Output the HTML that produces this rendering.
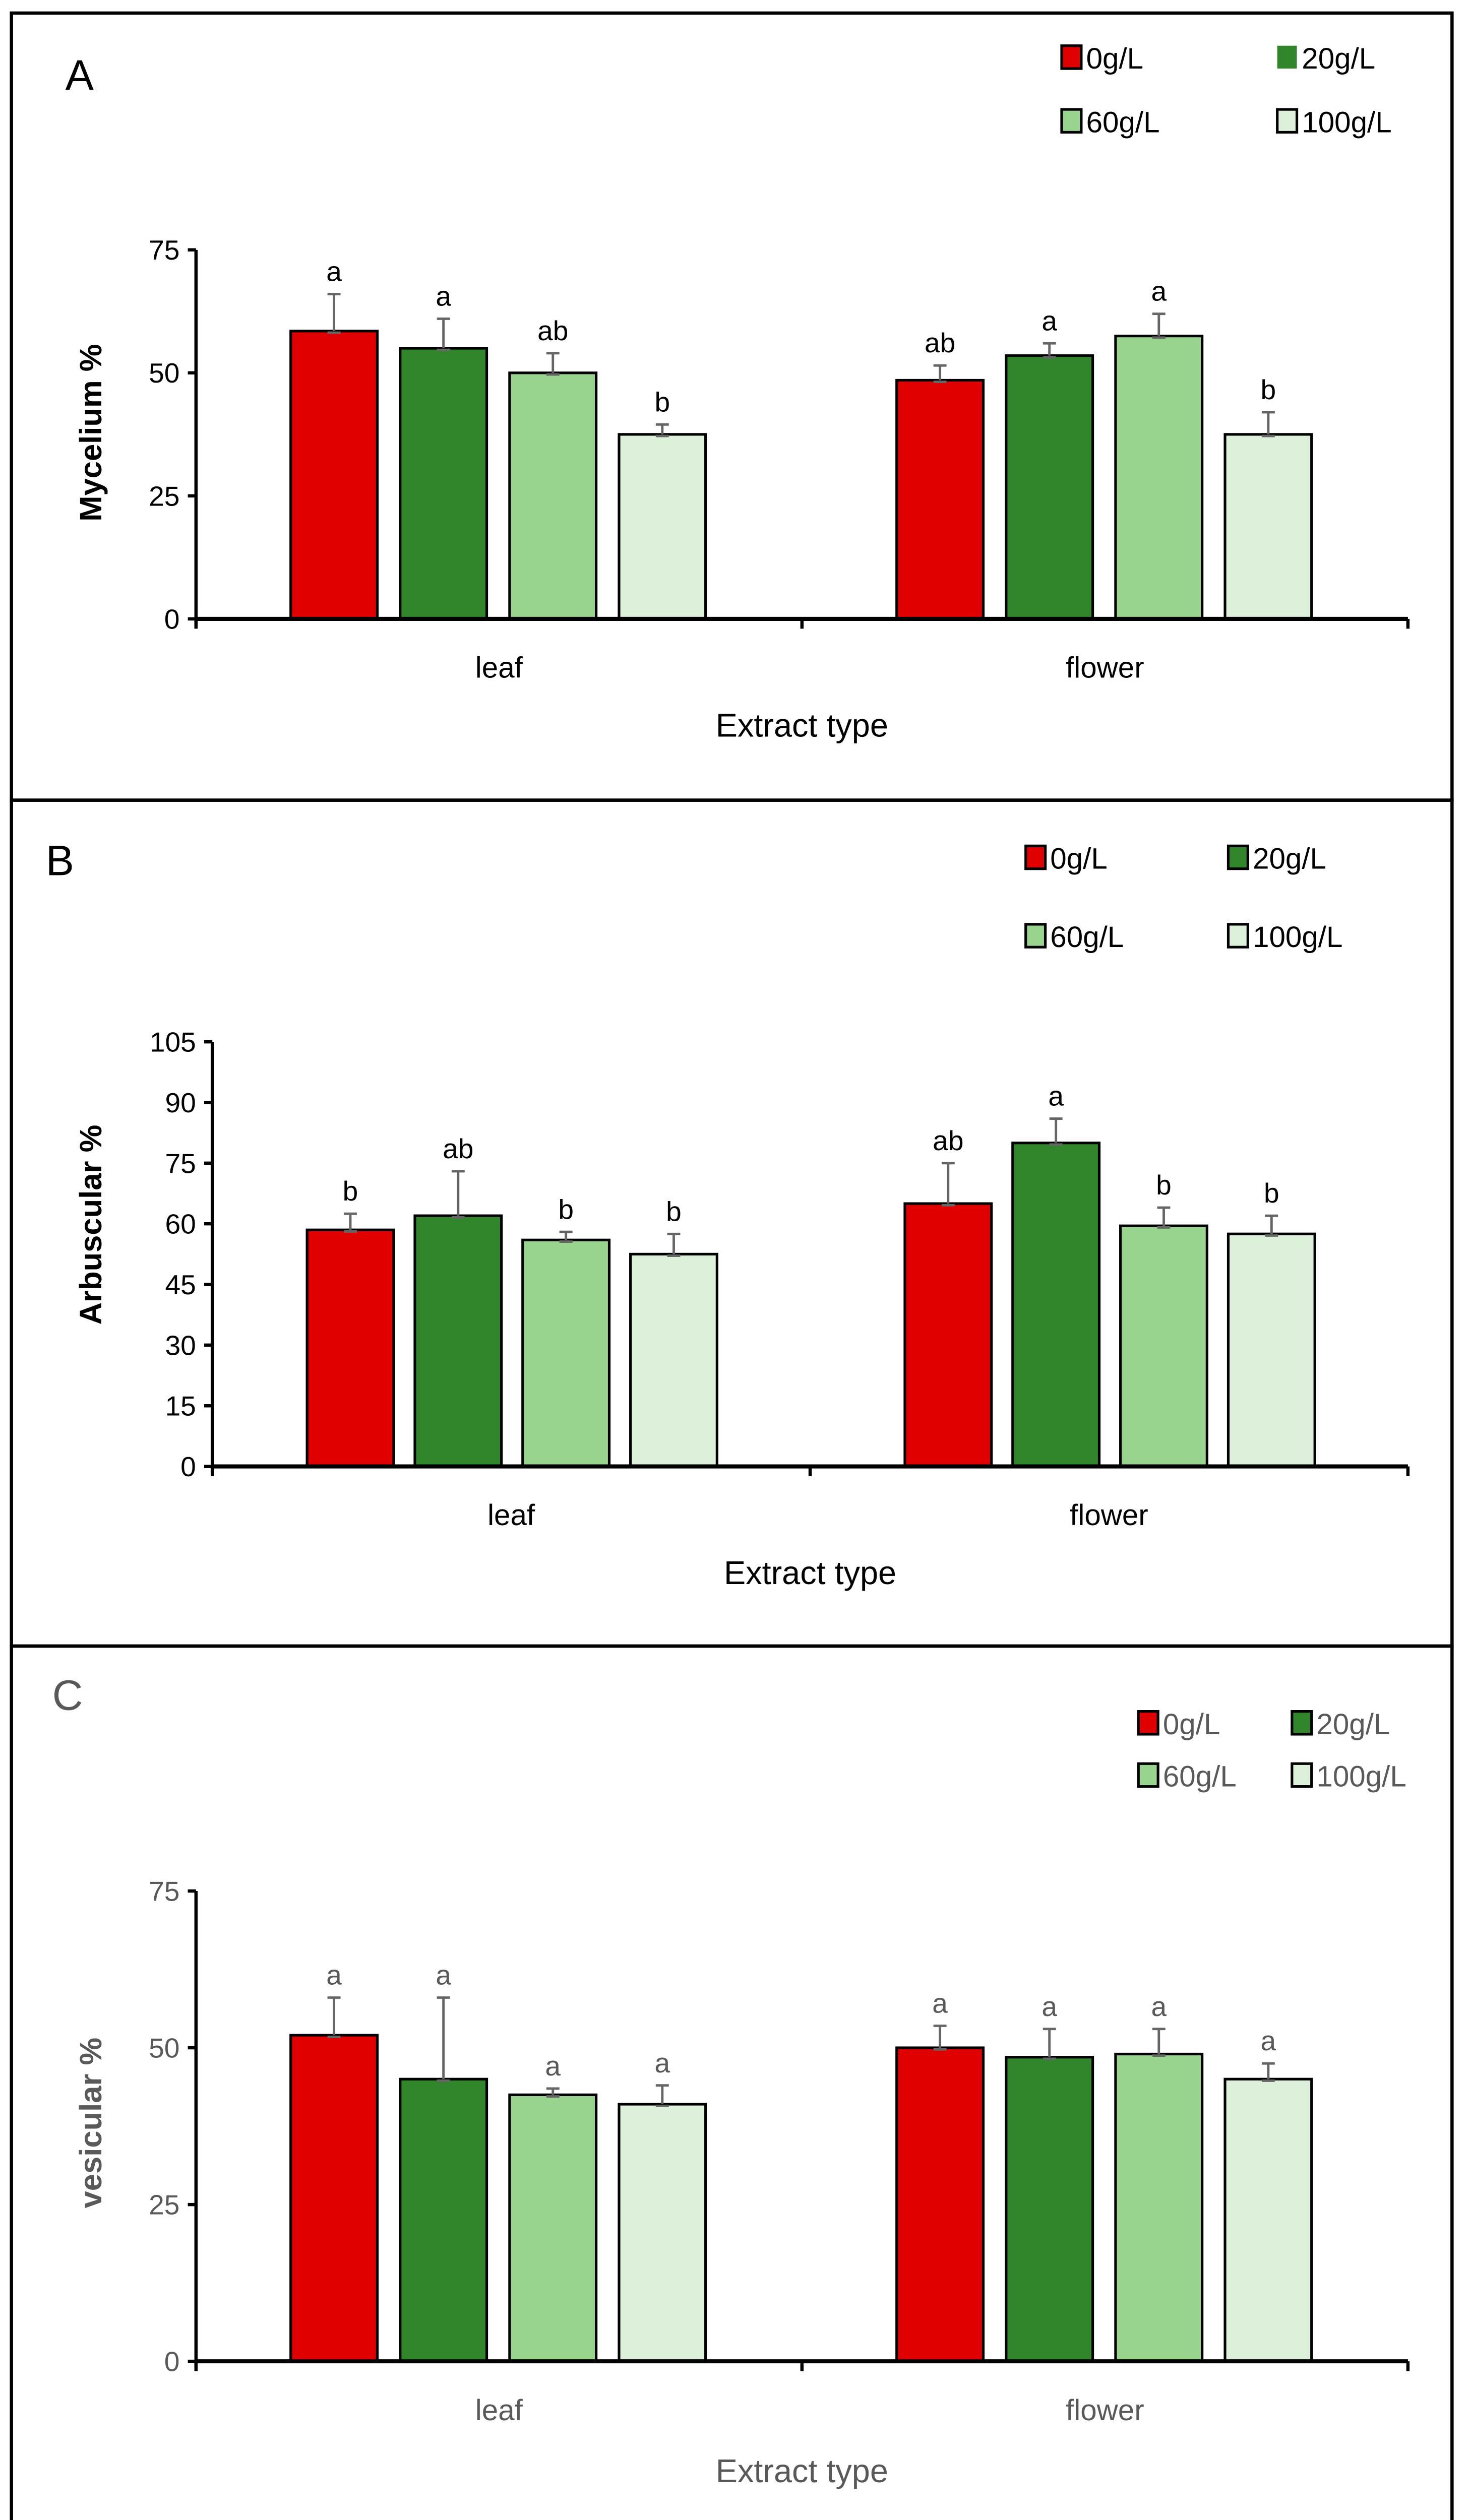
<!DOCTYPE html>
<html><head><meta charset="utf-8"><style>
html,body{margin:0;padding:0;background:#fff;width:2916px;height:5095px;overflow:hidden;}
svg{display:block;position:absolute;left:0;top:0;}
text{font-family:"Liberation Sans",sans-serif;}
</style></head><body>
<svg id="fig" xmlns="http://www.w3.org/2000/svg" width="2916" height="5095" viewBox="0 0 900 1572.5" preserveAspectRatio="none">
<rect x="0" y="0" width="900" height="1572.5" fill="#fff"/>
</svg>
<script>
const categories = ["leaf", "flower"];
const seriesNames = ["0g/L", "20g/L", "60g/L", "100g/L"];
const colors = ["#e00000", "#31862b", "#98d48d", "#ddf0da"];
const myceliumValues = [[58.5, 55, 50, 37.5], [48.5, 53.5, 57.5, 37.5]];
const myceliumErrTop = [[66, 61, 54, 39.5], [51.5, 56, 62, 42]];
const myceliumLetters = [["a", "a", "ab", "b"], ["ab", "a", "a", "b"]];
const myceliumTicks = [0, 25, 50, 75];
const arbValues = [[58.5, 62, 56, 52.5], [65, 80, 59.5, 57.5]];
const arbErrTop = [[62.5, 73, 58, 57.5], [75, 86, 64, 62]];
const arbLetters = [["b", "ab", "b", "b"], ["ab", "a", "b", "b"]];
const arbTicks = [0, 15, 30, 45, 60, 75, 90, 105];
const vesValues = [[52, 45, 42.5, 41], [50, 48.5, 49, 45]];
const vesErrTop = [[58, 58, 43.5, 44], [53.5, 53, 53, 47.5]];
const vesLetters = [["a", "a", "a", "a"], ["a", "a", "a", "a"]];
const vesTicks = [0, 25, 50, 75];

const NS = "http://www.w3.org/2000/svg";
const svg = document.getElementById("fig");
function mk(tag, attrs, parent, txt) {
  const e = document.createElementNS(NS, tag);
  for (const k in attrs) e.setAttribute(k, attrs[k]);
  if (txt !== undefined) e.textContent = txt;
  (parent || svg).appendChild(e);
  return e;
}

function panel(cfg) {
  const g = mk("g", {});
  
  
  const tc = cfg.textColor;
  const b = mk("rect", {x: 7, y: cfg.top, width: 882, height: cfg.bottom - cfg.top, fill: "none", stroke: "#000", "stroke-width": 2}, g);
  
  
  const lab = mk("text", {x: cfg.labX, y: cfg.labY, "font-size": 26, fill: tc}, g, cfg.letter);
  
  
  const maxV = cfg.ticks[cfg.ticks.length - 1];
  const y = v => cfg.y0 - (v / maxV) * (cfg.y0 - cfg.yTop);
  const ya = mk("line", {x1: cfg.x0, y1: cfg.yTop, x2: cfg.x0, y2: cfg.y0 + 4, stroke: "#000", "stroke-width": 2}, g);
  
  
  cfg.ticks.forEach(t => {
    mk("line", {x1: cfg.x0 - 5, y1: y(t), x2: cfg.x0, y2: y(t), stroke: "#000", "stroke-width": 2}, g);
    const tl = mk("text", {x: cfg.x0 - 10, y: y(t) + 6, "font-size": 17, fill: tc, "text-anchor": "end"}, g, t);
    
    
  });
  const yt = mk("text", {x: 0, y: 0, "font-size": 19, "font-weight": "bold", fill: tc, "text-anchor": "middle", transform: `translate(${cfg.yTitleX},${cfg.yTitleY}) rotate(-90)`}, g, cfg.yTitle);
  
  
  const groupW = (cfg.x1 - cfg.x0) / categories.length;
  categories.forEach((c, ci) => {
    const gx = cfg.x0 + groupW * ci;
    seriesNames.forEach((s, si) => {
      const bx = gx + cfg.firstOff + si * cfg.step;
      const v = cfg.values[ci][si], e = cfg.err[ci][si];
      const r = mk("rect", {x: bx, y: y(v), width: cfg.bw, height: cfg.y0 - y(v), fill: colors[si], stroke: "#000", "stroke-width": 1.6}, g);
      
      
      const cx = bx + cfg.bw / 2;
      const eb = mk("path", {d: `M${cx},${y(v)}V${y(e)}M${cx-4},${y(e)}H${cx+4}M${cx-4},${y(v)+1}H${cx+4}`, stroke: "#666", "stroke-width": 1.5, fill: "none"}, g);
      
      
      const lt = mk("text", {x: cx, y: y(e) - 8, "font-size": 17, fill: tc, "text-anchor": "middle"}, g, cfg.letters[ci][si]);
      
      
    });
    const cl = mk("text", {x: gx + groupW / 2, y: cfg.y0 + 36, "font-size": 18, fill: tc, "text-anchor": "middle"}, g, c);
    
    
  });
  const xa = mk("line", {x1: cfg.x0, y1: cfg.y0, x2: cfg.x1, y2: cfg.y0, stroke: "#000", "stroke-width": 2.5}, g);
  
  
  for (let i = 0; i <= categories.length; i++) {
    mk("line", {x1: cfg.x0 + groupW * i, y1: cfg.y0, x2: cfg.x0 + groupW * i, y2: cfg.y0 + 6, stroke: "#000", "stroke-width": 2}, g);
  }
  const xt = mk("text", {x: (cfg.x0 + cfg.x1) / 2, y: cfg.xTitleY, "font-size": 20, fill: tc, "text-anchor": "middle"}, g, "Extract type");
  
  
  seriesNames.forEach((s, si) => {
    const lx = cfg.legX[si % 2], ly = cfg.legY[Math.floor(si / 2)];
    const lg = mk("g", {}, g);
    
    
    mk("rect", {x: lx, y: ly - 7, width: 12, height: 14, fill: colors[si], stroke: (cfg.noSwatchBorder && si === 1) ? "none" : "#000", "stroke-width": 1.6}, lg);
    mk("text", {x: lx + 15, y: ly + 7, "font-size": 18, fill: tc}, lg, s);
  });
}

panel({name: "panel-a-mycelium", top: 8, bottom: 490, letter: "A", labX: 40, labY: 55, textColor: "#000",
  x0: 120, x1: 862, y0: 379, yTop: 153, ticks: myceliumTicks, values: myceliumValues, err: myceliumErrTop, letters: myceliumLetters,
  bw: 53, step: 67, firstOff: 58, yTitle: "Mycelium %", yTitleX: 62, yTitleY: 265, xTitleY: 451,
  legX: [650, 782], legY: [35, 74], noSwatchBorder: true});
panel({name: "panel-b-arbuscular", top: 490, bottom: 1008, letter: "B", labX: 28, labY: 536, textColor: "#000",
  x0: 130, x1: 862, y0: 898, yTop: 638, ticks: arbTicks, values: arbValues, err: arbErrTop, letters: arbLetters,
  bw: 53, step: 66, firstOff: 58, yTitle: "Arbuscular %", yTitleX: 62, yTitleY: 750, xTitleY: 970,
  legX: [628, 752], legY: [525, 573]});
panel({name: "panel-c-vesicular", top: 1008, bottom: 1558, letter: "C", labX: 32, labY: 1047, textColor: "#595959",
  x0: 120, x1: 862, y0: 1446, yTop: 1158, ticks: vesTicks, values: vesValues, err: vesErrTop, letters: vesLetters,
  bw: 53, step: 67, firstOff: 58, yTitle: "vesicular %", yTitleX: 62, yTitleY: 1300, xTitleY: 1520,
  legX: [697, 791], legY: [1055, 1087]});
</script>
</body></html>
